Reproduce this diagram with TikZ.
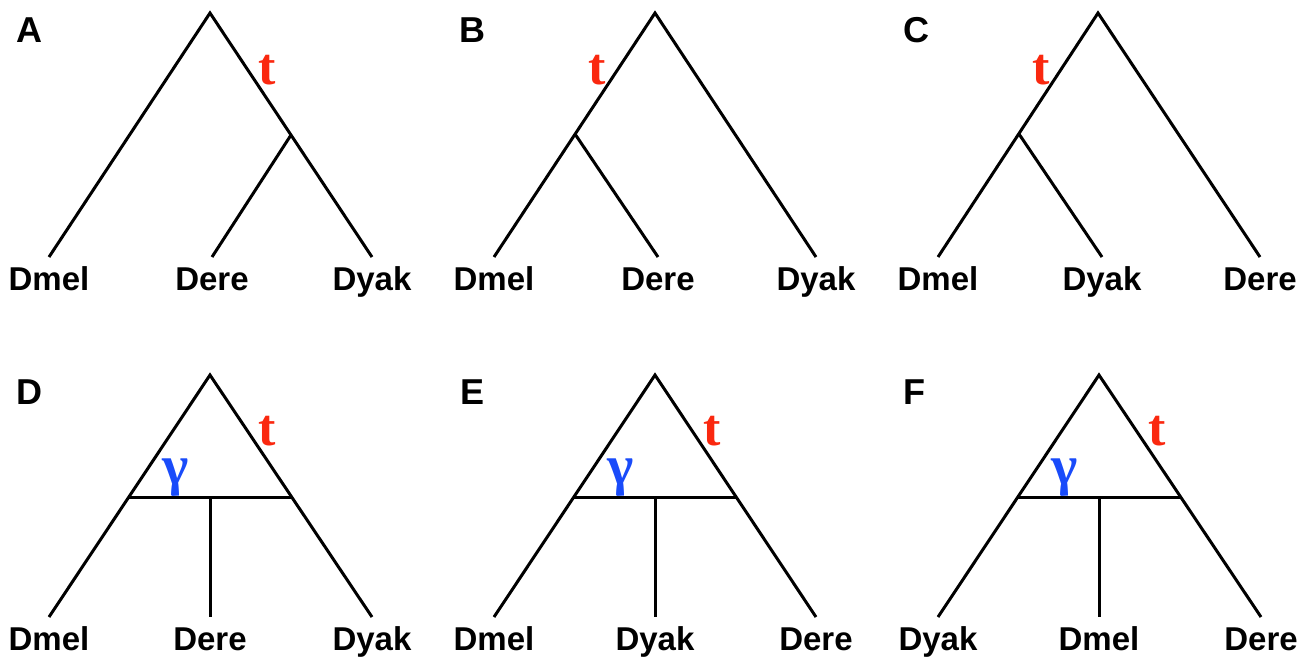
\documentclass[tikz,border=0pt]{standalone}
\usepackage{fontspec}
\setmainfont{Liberation Sans}
\newfontfamily\labfont{Liberation Serif}
\usetikzlibrary{positioning}
\definecolor{tred}{RGB}{250,40,15}
\definecolor{gblue}{RGB}{25,75,250}

\begin{document}
\begin{tikzpicture}[x=0.5pt, y=-0.5pt, line width=1.5pt,
		taxon/.style={anchor=north, inner sep=4pt, text height=12pt, text depth=3.5pt, font=\fontsize{16.5}{16.5}\selectfont\bfseries},
		panel/.style={inner sep=0pt, font=\fontsize{18}{18}\selectfont\bfseries},
		tlab/.style={inner sep=0pt, text=tred, font=\fontsize{26}{26}\selectfont\labfont\bfseries},
		glab/.style={inner sep=0pt, text=gblue, font=\fontsize{28}{28}\selectfont\labfont\bfseries}]
		\useasboundingbox (0,0) rectangle (1310,659);
		% A
		\node[panel] (A) at (29,30) {A};
		\coordinate (Aroot) at (210,13);
		\coordinate (Ajoin) at (291,135);
		\node[taxon] (Admel) at (49,257) {Dmel};
		\node[taxon] (Adere) at (212,257) {Dere};
		\node[taxon] (Adyak) at (372,257) {Dyak};
		\draw (Admel.north) -- (Aroot) -- (Adyak.north);
		\draw (Ajoin) -- (Adere.north);
		\node[tlab] (At) at (267,70) {t};
		% B
		\node[panel] (B) at (472,30) {B};
		\coordinate (Broot) at (655,13);
		\coordinate (Bjoin) at (575,134);
		\node[taxon] (Bdmel) at (494,257) {Dmel};
		\node[taxon] (Bdere) at (658,257) {Dere};
		\node[taxon] (Bdyak) at (816,257) {Dyak};
		\draw (Bdmel.north) -- (Broot) -- (Bdyak.north);
		\draw (Bjoin) -- (Bdere.north);
		\node[tlab] (Bt) at (597,70) {t};
		% C
		\node[panel] (C) at (916,30) {C};
		\coordinate (Croot) at (1098,13);
		\coordinate (Cjoin) at (1019,134);
		\node[taxon] (Cdmel) at (938,257) {Dmel};
		\node[taxon] (Cdyak) at (1102,257) {Dyak};
		\node[taxon] (Cdere) at (1260,257) {Dere};
		\draw (Cdmel.north) -- (Croot) -- (Cdere.north);
		\draw (Cjoin) -- (Cdyak.north);
		\node[tlab] (Ct) at (1041,70) {t};
		% D
		\node[panel] (D) at (29,392) {D};
		\coordinate (Droot) at (210,375);
		\coordinate (Dleft) at (129,497);
		\coordinate (Dright) at (291,497);
		\coordinate (Dmid) at (210,497);
		\node[taxon] (Ddmel) at (49,617) {Dmel};
		\node[taxon] (Ddere) at (210,617) {Dere};
		\node[taxon] (Ddyak) at (372,617) {Dyak};
		\draw (Ddmel.north) -- (Droot) -- (Ddyak.north);
		\draw (Dleft) -- (Dright);
		\draw (Dmid) -- (Ddere.north);
		\node[tlab] (Dt) at (267,431) {t};
		\node[glab] (Dg) at (176,478) {γ};
		% E
		\node[panel] (E) at (472,392) {E};
		\coordinate (Eroot) at (655,375);
		\coordinate (Eleft) at (574,497);
		\coordinate (Eright) at (736,497);
		\coordinate (Emid) at (655,497);
		\node[taxon] (Edmel) at (494,617) {Dmel};
		\node[taxon] (Edyak) at (655,617) {Dyak};
		\node[taxon] (Edere) at (816,617) {Dere};
		\draw (Edmel.north) -- (Eroot) -- (Edere.north);
		\draw (Eleft) -- (Eright);
		\draw (Emid) -- (Edyak.north);
		\node[tlab] (Et) at (712,431) {t};
		\node[glab] (Eg) at (621,478) {γ};
		% F
		\node[panel] (F) at (914,392) {F};
		\coordinate (Froot) at (1099,375);
		\coordinate (Fleft) at (1018,497);
		\coordinate (Fright) at (1180,497);
		\coordinate (Fmid) at (1099,497);
		\node[taxon] (Fdyak) at (938,617) {Dyak};
		\node[taxon] (Fdmel) at (1099,617) {Dmel};
		\node[taxon] (Fdere) at (1261,617) {Dere};
		\draw (Fdyak.north) -- (Froot) -- (Fdere.north);
		\draw (Fleft) -- (Fright);
		\draw (Fmid) -- (Fdmel.north);
		\node[tlab] (Ft) at (1157,431) {t};
		\node[glab] (Fg) at (1065,478) {γ};
	\end{tikzpicture}
\end{document}
